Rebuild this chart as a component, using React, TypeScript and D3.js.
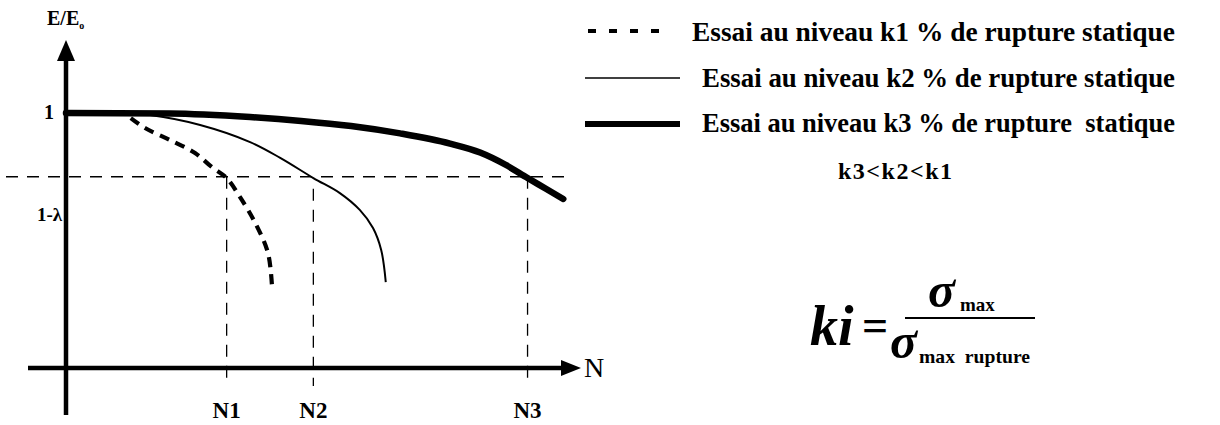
import React from "react";
import * as d3 from "d3";

// Normalised modulus E/E0 against number of cycles N (arbitrary units 0..100)
const lambda = 0.25;
const nLevels = [
  { label: "N1", n: 31.5 },
  { label: "N2", n: 48.5 },
  { label: "N3", n: 90.5 },
];

// k3 (lowest load level) – thick solid
const k3N = [0, 20.4, 36.1, 46.1, 55.9, 65.5, 75.3, 81.2, 86.1, 90.5, 94.1, 97.5];
const k3E = [1.0, 0.998, 0.984, 0.969, 0.949, 0.92, 0.88, 0.845, 0.798, 0.745, 0.703, 0.663];

// k2 – thin solid
const k2N = [12.5, 16.5, 26.3, 36.1, 42.0, 48.5, 53.7, 57.6, 60.2, 61.8, 62.7];
const k2E = [0.998, 0.992, 0.953, 0.886, 0.824, 0.745, 0.686, 0.62, 0.549, 0.463, 0.337];

// k1 (highest load level) – thick dashed
const k1N = [12.7, 15.5, 20.4, 25.3, 28.6, 31.5, 34.1, 37.1, 39.6, 40.4];
const k1E = [0.98, 0.941, 0.894, 0.843, 0.788, 0.745, 0.671, 0.569, 0.451, 0.318];

const legendLabels = [
  "Essai au niveau k1 % de rupture statique",
  "Essai au niveau k2 % de rupture statique",
  "Essai au niveau k3 % de rupture  statique",
];

const W = 1220;
const H = 425;
const FONT = "Liberation Serif, Times New Roman, DejaVu Serif, serif";

export default function App() {
  const x = d3.scaleLinear().domain([0, 100]).range([66, 576]);
  const y = d3.scaleLinear().domain([0, 1]).range([368, 113]);

  const lineWith = (curve: d3.CurveFactory) =>
    d3
      .line<[number, number]>()
      .x((d) => x(d[0]))
      .y((d) => y(d[1]))
      .curve(curve);
  const smooth = lineWith(d3.curveMonotoneX);
  const bent = lineWith(d3.curveCatmullRom.alpha(0.5));

  const zip = (a: number[], b: number[]) => a.map((v, i) => [v, b[i]] as [number, number]);

  const yLam = y(1 - lambda);
  const x0 = x(0);
  const y0 = y(0);
  const serif = { fontFamily: FONT };

  return (
    <svg width={W} height={H} style={{ position: "absolute", left: 0, top: 0, background: "#fff" }}>
      {/* axes */}
      <line x1={28} x2={562} y1={y0} y2={y0} stroke="#000" strokeWidth={4.5} />
      <path d={`M${581},${y0} L${561},${y0 - 8} L${561},${y0 + 8} Z`} fill="#000" />
      <line x1={x0} x2={x0} y1={58} y2={415} stroke="#000" strokeWidth={4.5} />
      <path d={`M${x0},${40} L${x0 - 9},${61} L${x0 + 9},${61} Z`} fill="#000" />

      {/* 1 - lambda threshold */}
      <line x1={6} x2={570} y1={yLam} y2={yLam} stroke="#000" strokeWidth={1.3} strokeDasharray="12,9" />
      {nLevels.map((d, i) => (
        <g key={d.label}>
          <line
            x1={x(d.n)}
            x2={x(d.n)}
            y1={i === 1 ? yLam + 12 : yLam}
            y2={i === 2 ? 378 : 386}
            stroke="#000"
            strokeWidth={1.3}
            strokeDasharray="12,9"
          />
          <text x={x(d.n)} y={418} textAnchor="middle" style={serif} fontWeight="bold" fontSize={23}>
            {d.label}
          </text>
        </g>
      ))}

      {/* curves */}
      <path d={smooth(zip(k3N, k3E)) || ""} fill="none" stroke="#000" strokeWidth={6.5} strokeLinecap="round" />
      <path d={bent(zip(k2N, k2E)) || ""} fill="none" stroke="#000" strokeWidth={2} />
      <path d={bent(zip(k1N, k1E)) || ""} fill="none" stroke="#000" strokeWidth={4.2} strokeDasharray="10,7" />

      {/* axis labels */}
      <text x={47} y={25} style={serif} fontWeight="bold" fontSize={20}>
        E/E
        <tspan fontSize={10} dy={4}>o</tspan>
      </text>
      <text x={44} y={119} style={serif} fontWeight="bold" fontSize={20}>1</text>
      <text x={37} y={221} style={serif} fontWeight="bold" fontSize={19}>1-λ</text>
      <text x={584} y={377} style={serif} fontSize={28}>N</text>

      {/* legend */}
      <line x1={588} x2={664} y1={31} y2={31} stroke="#000" strokeWidth={4} strokeDasharray="8,13" />
      <line x1={585} x2={680} y1={78} y2={78} stroke="#000" strokeWidth={1.5} />
      <line x1={585} x2={680} y1={124} y2={124} stroke="#000" strokeWidth={6} />
      {legendLabels.map((t, i) => (
        <text
          key={i}
          x={i === 0 ? 692 : 702}
          y={41 + i * 45.5}
          style={{ ...serif, whiteSpace: "pre" }}
          fontWeight="bold"
          fontSize={27}
          textLength={i === 0 ? 483 : 473}
          lengthAdjust="spacingAndGlyphs"
        >
          {t}
        </text>
      ))}
      <text x={838} y={179} style={serif} fontWeight="bold" fontSize={24} textLength={114} lengthAdjust="spacing">
        k3&lt;k2&lt;k1
      </text>

      {/* ki = sigma_max / sigma_max rupture */}
      <text x={810} y={345} style={serif} fontWeight="bold" fontStyle="italic" fontSize={56}>ki</text>
      <text x={862} y={341} style={serif} fontWeight="bold" fontSize={46}>=</text>
      <line x1={905} x2={1035} y1={318} y2={318} stroke="#000" strokeWidth={2} />
      <text x={928} y={307} style={serif} fontWeight="bold" fontStyle="italic" fontSize={50}>σ</text>
      <text x={960} y={311} style={serif} fontWeight="bold" fontSize={19}>max</text>
      <text x={890} y={358} style={serif} fontWeight="bold" fontStyle="italic" fontSize={50}>σ</text>
      <text x={919} y={363} style={{ ...serif, whiteSpace: "pre" }} fontWeight="bold" fontSize={19} textLength={111} lengthAdjust="spacingAndGlyphs">
        max  rupture
      </text>
    </svg>
  );
}
